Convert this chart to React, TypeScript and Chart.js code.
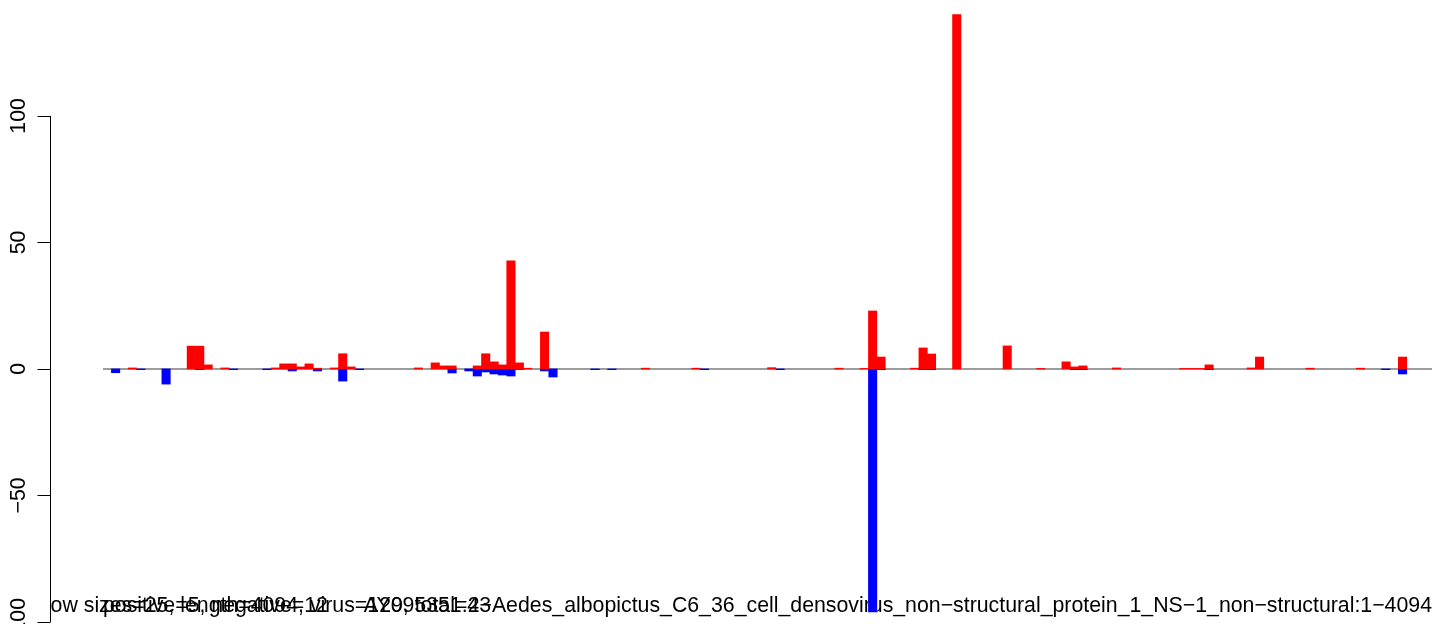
import React, { useEffect, useRef } from "react";
import { Chart, registerables } from "chart.js";

Chart.register(...registerables);

// ---- data ----
const SLOT_COUNT = 158;
const slotLabels: string[] = Array.from({ length: SLOT_COUNT }, (_, i) => String(i + 1));

const posSlots = [3, 10, 11, 12, 14, 20, 21, 22, 23, 24, 25, 27, 28, 29, 37, 39, 40, 41, 44, 45, 46, 47, 48, 49, 50, 52, 64, 70, 79, 87, 90, 91, 92, 96, 97, 98, 101, 107, 111, 114, 115, 116, 120, 128, 129, 130, 131, 136, 137, 143, 149, 154];
const posValues = [0.4, 9, 9, 1.6, 0.4, 0.4, 2, 2, 0.8, 2, 0.3, 0.4, 6, 0.8, 0.4, 2.4, 1.2, 1.2, 1.2, 6, 2.8, 1.6, 42.7, 2.4, 0.3, 14.6, 0.3, 0.3, 0.5, 0.3, 0.2, 22.9, 4.7, 0.3, 8.3, 5.9, 140, 9.1, 0.2, 2.8, 0.8, 1.2, 0.4, 0.2, 0.2, 0.2, 1.6, 0.4, 4.7, 0.3, 0.3, 4.7];

const negSlots = [1, 4, 7, 11, 15, 19, 22, 25, 28, 30, 41, 43, 44, 45, 46, 47, 48, 49, 52, 53, 58, 60, 71, 80, 91, 92, 97, 98, 115, 116, 131, 152, 154];
const negValues = [-1.5, -0.3, -6, -0.3, -0.3, -0.3, -0.8, -0.8, -4.8, -0.3, -1.6, -0.8, -2.8, -1.2, -2, -2.4, -2.8, -0.2, -0.8, -3.2, -0.3, -0.3, -0.3, -0.3, -96, -0.3, -0.3, -0.3, -0.3, -0.3, -0.3, -0.3, -2];

const yTickValues = [-100, -50, 0, 50, 100];
const yTickLabels = ["\u2212100", "\u221250", "0", "50", "100"];

const captionLeft = "row sizes=25, length=4094, virus=129, total=43";
const captionMid = "positive=5, negative=12";
const captionRight = "AY095351.2\u2212Aedes_albopictus_C6_36_cell_densovirus_non\u2212structural_protein_1_NS\u22121_non\u2212structural:1\u22124094";

// ---- helpers ----
function expand(slots: number[], values: number[]): (number | null)[] {
  const arr: (number | null)[] = new Array(SLOT_COUNT).fill(null);
  slots.forEach((s, i) => {
    arr[s] = values[i];
  });
  return arr;
}

const FONT = '21.3px "Liberation Sans", Arial, Helvetica, sans-serif';
const AXIS_X = 50.5;
const TICK_LEN = 13;
const LABEL_OFFSET = 25.5;

const rPlotPlugin = {
  id: "rPlot",
  beforeDatasetsDraw(chart: any) {
    const { ctx, chartArea, scales } = chart;
    const y0 = scales.y.getPixelForValue(0);
    // captions (clipped to plot region like R's text())
    ctx.save();
    ctx.beginPath();
    ctx.rect(50, 0, chart.width, chart.height);
    ctx.clip();
    ctx.fillStyle = "#000";
    ctx.font = FONT;
    ctx.textBaseline = "alphabetic";
    ctx.textAlign = "left";
    ctx.fillText(captionLeft, 43.5, 612);
    ctx.fillText(captionMid, chartArea.left, 612);
    ctx.textAlign = "right";
    ctx.fillText(captionRight, chartArea.right, 612);
    ctx.restore();
    // baseline
    ctx.save();
    ctx.strokeStyle = "#9c9c9c";
    ctx.lineWidth = 2;
    ctx.beginPath();
    ctx.moveTo(chartArea.left, y0);
    ctx.lineTo(chartArea.right, y0);
    ctx.stroke();
    ctx.restore();
  },
  afterDraw(chart: any) {
    const { ctx, scales } = chart;
    const ys = scales.y;
    const top = ys.getPixelForValue(yTickValues[yTickValues.length - 1]);
    const bottom = ys.getPixelForValue(yTickValues[0]);
    ctx.save();
    ctx.strokeStyle = "#000";
    ctx.lineWidth = 1;
    ctx.beginPath();
    ctx.moveTo(AXIS_X, top);
    ctx.lineTo(AXIS_X, bottom);
    yTickValues.forEach((v) => {
      const py = Math.round(ys.getPixelForValue(v)) + 0.5;
      ctx.moveTo(AXIS_X, py);
      ctx.lineTo(AXIS_X - TICK_LEN, py);
    });
    ctx.stroke();
    ctx.fillStyle = "#000";
    ctx.font = FONT;
    ctx.textAlign = "center";
    ctx.textBaseline = "alphabetic";
    yTickValues.forEach((v, i) => {
      const py = ys.getPixelForValue(v);
      ctx.save();
      ctx.translate(AXIS_X - LABEL_OFFSET, py);
      ctx.rotate(-Math.PI / 2);
      ctx.fillText(yTickLabels[i], 0, 0);
      ctx.restore();
    });
    ctx.restore();
  },
};

export default function App() {
  const canvasRef = useRef<HTMLCanvasElement | null>(null);

  useEffect(() => {
    if (!canvasRef.current) return;
    const chart = new Chart(canvasRef.current, {
      type: "bar",
      data: {
        labels: slotLabels,
        datasets: [
          {
            label: "positive",
            data: expand(posSlots, posValues),
            backgroundColor: "#ff0000",
            borderWidth: 0,
            barPercentage: 1,
            categoryPercentage: 1,
            stack: "s",
          },
          {
            label: "negative",
            data: expand(negSlots, negValues),
            backgroundColor: "#0000ff",
            borderWidth: 0,
            barPercentage: 1,
            categoryPercentage: 1,
            stack: "s",
          },
        ],
      },
      options: {
        responsive: false,
        maintainAspectRatio: false,
        animation: false,
        layout: { padding: { left: 103, right: 12, top: 0, bottom: 0 } },
        plugins: {
          legend: { display: false },
          tooltip: { enabled: false },
        },
        scales: {
          x: {
            display: false,
            stacked: true,
            offset: true,
            grid: { display: false },
          },
          y: {
            display: false,
            stacked: true,
            min: -100.8,
            max: 145.8,
            grid: { display: false },
          },
        },
      },
      plugins: [rPlotPlugin],
    });
    return () => chart.destroy();
  }, []);

  return (
    <div style={{ position: "fixed", left: 0, top: 0, width: 1444, height: 624, background: "#fff" }}>
      <canvas ref={canvasRef} width={1444} height={624} style={{ display: "block" }} />
    </div>
  );
}
